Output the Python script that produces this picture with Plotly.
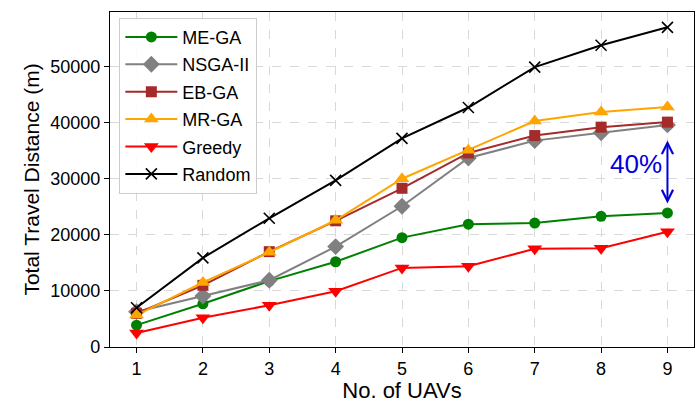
import plotly.graph_objects as go

uavs = [1, 2, 3, 4, 5, 6, 7, 8, 9]
me_ga = [3900, 7700, 11750, 15200, 19500, 21900, 22100, 23300, 23900]
nsga2 = [6300, 9100, 11900, 17900, 25100, 33700, 36800, 38200, 39600]
eb_ga = [6000, 11000, 17000, 22500, 28300, 34600, 37700, 39200, 40100]
mr_ga = [5700, 11500, 16900, 22600, 30000, 35100, 40300, 41900, 42800]
greedy = [2500, 5200, 7450, 9950, 14100, 14400, 17500, 17600, 20550]
random_ = [7000, 15900, 22950, 29700, 37200, 42700, 49900, 53800, 57000]
y_ticks = [0, 10000, 20000, 30000, 40000, 50000]

series = [
    ("ME-GA", me_ga, "green", "circle", 11),
    ("NSGA-II", nsga2, "gray", "diamond", 13),
    ("EB-GA", eb_ga, "brown", "square", 11),
    ("MR-GA", mr_ga, "orange", "triangle-up", 13),
    ("Greedy", greedy, "red", "triangle-down", 13),
    ("Random", random_, "black", "x-thin", 11),
]

font_family = "Liberation Sans, Arial, sans-serif"

fig = go.Figure()
for name, vals, color, sym, size in series:
    marker = dict(symbol=sym, size=size, color=color)
    if sym == "x-thin":
        marker["line"] = dict(color=color, width=1.6)
    fig.add_trace(go.Scatter(
        x=uavs, y=vals, name=name, mode="lines+markers",
        line=dict(color=color, width=2), marker=marker, legendgroup=name,
    ))

# 40% gap arrow between NSGA-II/EB-GA and ME-GA at 9 UAVs
fig.add_annotation(
    x=9, y=25600, ax=9, ay=37100, xref="x", yref="y", axref="x", ayref="y",
    showarrow=True, arrowhead=5, startarrowhead=5, arrowside="end+start",
    arrowsize=1.1, startarrowsize=1.1, arrowwidth=2, arrowcolor="#0000dd", text="",
)
fig.add_annotation(
    x=8.52, y=32600, xref="x", yref="y", text="40%", showarrow=False,
    font=dict(size=26, color="#0000dd", family=font_family), xanchor="center", yanchor="middle",
)

axis_common = dict(
    showline=True, linecolor="black", linewidth=1.3, mirror=True,
    ticks="outside", ticklen=5, tickwidth=1.2, tickcolor="black",
    showgrid=True, gridcolor="#d9d9d9", griddash="dash", gridwidth=1,
    zeroline=False, tickfont=dict(size=18, color="black", family=font_family),
)

fig.update_layout(
    width=700, height=403,
    margin=dict(l=110, r=6, t=12, b=56),
    plot_bgcolor="white", paper_bgcolor="white",
    font=dict(family=font_family, color="black"),
    xaxis=dict(axis_common, range=[0.6, 9.4], tickmode="array", tickvals=uavs,
               title=dict(text="No. of UAVs", font=dict(size=22), standoff=4)),
    yaxis=dict(axis_common, range=[0, 59735], tickmode="array",
               tickvals=y_ticks, tickformat="d",
               title=dict(text="Total Travel Distance (m)", font=dict(size=21), standoff=4)),
    legend=dict(x=0.016, y=0.983, xanchor="left", yanchor="top",
                bgcolor="rgba(255,255,255,0.85)", bordercolor="#cccccc", borderwidth=1,
                font=dict(size=18, color="black"), tracegroupgap=1, itemwidth=52),
    showlegend=True,
)

fig.write_html("out.html")
